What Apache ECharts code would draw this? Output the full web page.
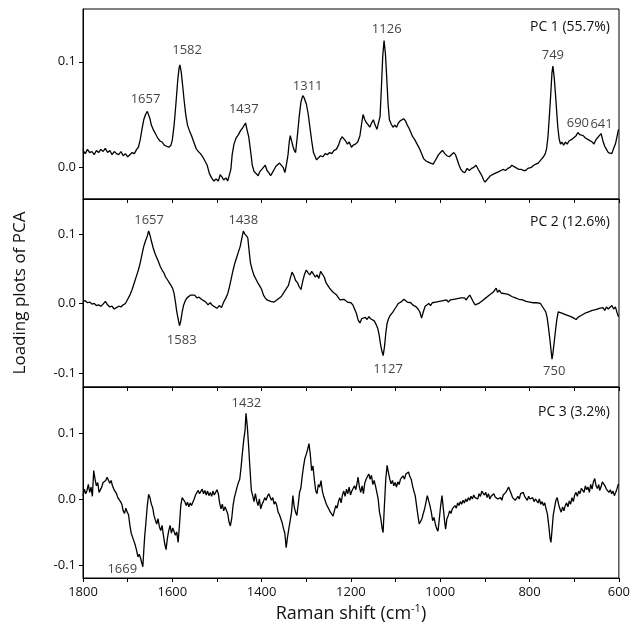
<!DOCTYPE html>
<html><head><meta charset="utf-8">
<script src="https://cdn.jsdelivr.net/npm/echarts@6/dist/echarts.min.js"></script>
<style>html,body{margin:0;padding:0;background:#fff}#c{width:633px;height:639px}</style>
</head><body><div id="c"></div>
<script>
// ---- data (wavenumber cm-1, loading) ----
const pc1 = [[1800,0.016],[1795,0.013],[1790,0.017],[1785,0.014],[1780,0.015],[1775,0.012],[1770,0.016],[1765,0.014],[1760,0.017],[1755,0.015],[1750,0.018],[1745,0.014],[1740,0.016],[1735,0.012],[1730,0.015],[1725,0.013],[1720,0.012],[1715,0.015],[1710,0.011],[1705,0.013],[1700,0.010],[1695,0.012],[1690,0.014],[1685,0.013],[1680,0.017],[1676,0.019],[1672,0.026],[1668,0.036],[1664,0.045],[1660,0.050],[1656,0.053],[1653,0.054],[1650,0.046],[1647,0.040],[1643,0.036],[1638,0.032],[1633,0.028],[1628,0.025],[1623,0.024],[1618,0.021],[1613,0.020],[1608,0.019],[1603,0.021],[1600,0.026],[1596,0.040],[1592,0.060],[1588,0.082],[1585,0.094],[1583,0.097],[1580,0.090],[1577,0.078],[1574,0.065],[1570,0.050],[1566,0.040],[1562,0.035],[1557,0.030],[1552,0.024],[1547,0.018],[1542,0.015],[1537,0.013],[1532,0.010],[1527,0.006],[1522,0.002],[1517,-0.006],[1512,-0.010],[1507,-0.013],[1502,-0.011],[1497,-0.013],[1493,-0.007],[1489,-0.009],[1485,-0.012],[1480,-0.010],[1476,-0.013],[1472,-0.014],[1469,-0.002],[1466,0.012],[1462,0.022],[1457,0.028],[1452,0.031],[1447,0.035],[1443,0.037],[1439,0.040],[1436,0.042],[1433,0.036],[1429,0.029],[1425,0.016],[1421,0.002],[1417,-0.004],[1412,-0.006],[1408,-0.008],[1404,-0.004],[1400,-0.005],[1396,0.000],[1392,0.002],[1388,-0.003],[1384,-0.005],[1380,-0.008],[1376,-0.005],[1372,-0.002],[1368,0.001],[1364,0.002],[1360,0.004],[1356,0.004],[1352,0.000],[1348,-0.005],[1344,0.004],[1341,0.012],[1338,0.025],[1336,0.030],[1333,0.025],[1330,0.020],[1327,0.016],[1324,0.014],[1320,0.030],[1316,0.048],[1312,0.062],[1308,0.068],[1305,0.066],[1300,0.060],[1296,0.051],[1292,0.038],[1288,0.025],[1284,0.014],[1280,0.010],[1277,0.007],[1273,0.009],[1268,0.011],[1263,0.010],[1258,0.013],[1253,0.012],[1248,0.014],[1243,0.013],[1238,0.016],[1233,0.017],[1228,0.021],[1224,0.026],[1220,0.029],[1216,0.027],[1212,0.025],[1208,0.022],[1204,0.024],[1199,0.019],[1195,0.021],[1190,0.022],[1185,0.024],[1180,0.030],[1176,0.042],[1173,0.050],[1169,0.045],[1165,0.042],[1161,0.040],[1158,0.038],[1154,0.042],[1150,0.045],[1146,0.040],[1142,0.036],[1138,0.035],[1135,0.048],[1132,0.075],[1129,0.105],[1126,0.120],[1123,0.108],[1120,0.085],[1117,0.060],[1114,0.045],[1110,0.041],[1106,0.038],[1102,0.040],[1098,0.038],[1094,0.042],[1090,0.044],[1086,0.045],[1082,0.046],[1078,0.044],[1074,0.040],[1070,0.037],[1066,0.033],[1062,0.029],[1057,0.026],[1052,0.022],[1047,0.018],[1042,0.013],[1037,0.008],[1032,0.006],[1027,0.005],[1022,0.004],[1016,0.003],[1012,0.006],[1008,0.009],[1004,0.012],[1000,0.014],[995,0.016],[990,0.013],[985,0.011],[980,0.010],[975,0.012],[970,0.014],[966,0.012],[962,0.007],[958,0.002],[954,-0.002],[950,-0.004],[945,-0.005],[940,-0.001],[935,-0.003],[930,-0.001],[925,0.000],[920,0.002],[915,-0.002],[911,-0.005],[907,-0.008],[903,-0.012],[900,-0.014],[896,-0.012],[892,-0.010],[888,-0.008],[884,-0.009],[879,-0.006],[874,-0.005],[869,-0.004],[864,-0.003],[859,-0.002],[854,-0.003],[849,-0.001],[844,0.000],[840,0.002],[836,0.003],[832,0.000],[828,-0.001],[824,-0.002],[819,-0.002],[814,-0.003],[809,-0.003],[804,-0.001],[800,0.000],[796,0.000],[791,0.002],[786,0.003],[781,0.004],[777,0.005],[773,0.008],[769,0.010],[765,0.013],[762,0.018],[759,0.029],[756,0.048],[753,0.068],[750,0.090],[748,0.096],[745,0.085],[742,0.068],[739,0.050],[737,0.038],[734,0.027],[731,0.022],[728,0.024],[724,0.021],[720,0.024],[716,0.022],[712,0.025],[708,0.024],[704,0.027],[700,0.026],[696,0.030],[692,0.033],[688,0.031],[684,0.032],[680,0.030],[676,0.028],[672,0.029],[668,0.026],[664,0.025],[660,0.024],[656,0.022],[652,0.026],[648,0.028],[644,0.030],[640,0.032],[636,0.025],[632,0.020],[628,0.017],[624,0.014],[620,0.015],[616,0.013],[612,0.018],[608,0.022],[604,0.030],[601,0.036]];

const pc2 = [[1800,0.003],[1795,0.004],[1790,0.001],[1785,0.002],[1780,-0.001],[1775,0.000],[1770,-0.003],[1765,-0.002],[1760,-0.004],[1755,-0.001],[1750,0.003],[1745,-0.002],[1740,-0.005],[1735,-0.004],[1730,-0.008],[1725,-0.006],[1720,-0.004],[1715,-0.005],[1710,-0.002],[1705,0.000],[1700,0.006],[1695,0.012],[1690,0.020],[1685,0.030],[1680,0.040],[1676,0.048],[1672,0.058],[1668,0.070],[1664,0.082],[1660,0.090],[1656,0.097],[1653,0.104],[1650,0.098],[1647,0.090],[1643,0.080],[1639,0.072],[1635,0.066],[1631,0.060],[1627,0.053],[1623,0.048],[1619,0.044],[1615,0.038],[1611,0.034],[1607,0.030],[1603,0.026],[1599,0.021],[1596,0.014],[1593,0.002],[1590,-0.012],[1587,-0.022],[1584,-0.032],[1581,-0.025],[1578,-0.012],[1575,-0.003],[1571,0.004],[1567,0.008],[1563,0.010],[1559,0.012],[1555,0.010],[1550,0.012],[1545,0.008],[1540,0.009],[1535,0.006],[1530,0.004],[1525,0.002],[1520,-0.002],[1515,0.001],[1510,-0.003],[1505,-0.005],[1500,-0.007],[1495,-0.003],[1490,-0.006],[1485,0.002],[1480,0.008],[1476,0.014],[1472,0.024],[1468,0.036],[1464,0.048],[1460,0.058],[1456,0.066],[1452,0.074],[1448,0.082],[1444,0.095],[1441,0.104],[1438,0.100],[1434,0.097],[1431,0.094],[1428,0.075],[1425,0.058],[1421,0.048],[1417,0.040],[1413,0.035],[1409,0.030],[1405,0.026],[1400,0.020],[1396,0.012],[1392,0.008],[1388,0.005],[1384,0.004],[1380,0.003],[1376,0.005],[1372,0.002],[1368,0.004],[1364,0.006],[1360,0.008],[1356,0.010],[1352,0.014],[1348,0.018],[1344,0.022],[1340,0.026],[1336,0.036],[1332,0.045],[1328,0.040],[1324,0.033],[1320,0.030],[1316,0.024],[1312,0.020],[1308,0.032],[1304,0.042],[1300,0.048],[1296,0.044],[1292,0.041],[1288,0.046],[1284,0.042],[1280,0.038],[1276,0.041],[1272,0.036],[1268,0.046],[1264,0.044],[1260,0.038],[1256,0.030],[1252,0.026],[1248,0.022],[1244,0.019],[1240,0.016],[1236,0.015],[1232,0.012],[1228,0.008],[1224,0.005],[1220,0.003],[1216,0.006],[1212,0.004],[1208,0.002],[1204,0.004],[1200,0.001],[1196,-0.002],[1192,-0.004],[1188,-0.014],[1184,-0.024],[1180,-0.028],[1176,-0.022],[1172,-0.024],[1168,-0.020],[1164,-0.023],[1160,-0.019],[1156,-0.022],[1152,-0.021],[1148,-0.025],[1144,-0.030],[1140,-0.036],[1137,-0.045],[1134,-0.058],[1131,-0.068],[1128,-0.075],[1125,-0.062],[1122,-0.042],[1119,-0.028],[1116,-0.022],[1113,-0.018],[1110,-0.016],[1106,-0.012],[1102,-0.008],[1098,-0.004],[1094,0.000],[1090,0.002],[1086,0.003],[1082,0.006],[1078,0.005],[1074,0.002],[1070,0.000],[1066,0.001],[1062,-0.002],[1058,0.000],[1054,-0.005],[1050,-0.008],[1046,-0.012],[1042,-0.021],[1038,-0.012],[1034,-0.004],[1030,-0.002],[1026,0.000],[1022,-0.003],[1018,0.001],[1014,-0.001],[1010,0.002],[1006,0.000],[1002,0.003],[998,0.002],[994,0.004],[990,0.003],[986,0.005],[982,0.002],[978,0.005],[974,0.003],[970,0.006],[966,0.004],[962,0.007],[958,0.005],[954,0.008],[950,0.006],[946,0.008],[942,0.005],[938,0.009],[934,0.012],[930,0.007],[926,0.002],[922,-0.002],[918,-0.004],[914,0.000],[910,0.002],[906,0.004],[902,0.005],[898,0.008],[894,0.010],[890,0.012],[886,0.014],[882,0.016],[878,0.018],[875,0.022],[872,0.016],[868,0.019],[864,0.015],[860,0.016],[856,0.014],[852,0.016],[848,0.013],[844,0.012],[840,0.010],[836,0.010],[832,0.008],[828,0.008],[824,0.006],[820,0.007],[816,0.005],[812,0.004],[808,0.003],[804,0.003],[800,0.002],[796,0.002],[792,0.001],[788,0.000],[784,0.001],[780,-0.001],[776,0.000],[772,-0.004],[768,-0.008],[764,-0.012],[761,-0.020],[758,-0.034],[755,-0.050],[752,-0.068],[750,-0.080],[748,-0.072],[745,-0.055],[742,-0.038],[739,-0.022],[736,-0.012],[732,-0.012],[728,-0.014],[724,-0.013],[720,-0.016],[716,-0.015],[712,-0.018],[708,-0.017],[704,-0.020],[700,-0.021],[696,-0.023],[692,-0.020],[688,-0.019],[684,-0.017],[680,-0.016],[676,-0.014],[672,-0.015],[668,-0.012],[664,-0.013],[660,-0.010],[656,-0.011],[652,-0.009],[648,-0.011],[644,-0.007],[640,-0.009],[636,-0.006],[632,-0.010],[628,-0.005],[624,-0.008],[620,-0.006],[616,-0.003],[612,-0.008],[608,-0.005],[604,-0.014],[601,-0.019]];

const pc3 = [[1800,0.005],[1797,0.015],[1794,0.008],[1791,0.013],[1788,0.022],[1785,0.010],[1782,0.018],[1779,0.004],[1776,0.043],[1773,0.030],[1770,0.020],[1767,0.025],[1764,0.010],[1761,0.007],[1758,0.018],[1755,0.025],[1752,0.022],[1749,0.028],[1746,0.033],[1743,0.035],[1740,0.024],[1737,0.028],[1734,0.020],[1731,0.015],[1728,0.012],[1725,0.008],[1722,0.002],[1719,0.000],[1716,-0.004],[1713,-0.008],[1710,-0.018],[1707,-0.022],[1704,-0.014],[1701,-0.020],[1698,-0.024],[1695,-0.040],[1692,-0.052],[1689,-0.058],[1686,-0.064],[1683,-0.070],[1680,-0.078],[1677,-0.088],[1674,-0.084],[1671,-0.090],[1668,-0.098],[1666,-0.103],[1664,-0.080],[1662,-0.058],[1659,-0.035],[1656,-0.010],[1653,0.007],[1650,0.002],[1647,-0.008],[1644,-0.013],[1641,-0.025],[1638,-0.032],[1635,-0.038],[1632,-0.030],[1629,-0.042],[1626,-0.048],[1623,-0.040],[1620,-0.055],[1617,-0.068],[1614,-0.077],[1611,-0.060],[1608,-0.048],[1605,-0.040],[1602,-0.052],[1599,-0.044],[1596,-0.046],[1593,-0.055],[1590,-0.050],[1587,-0.066],[1584,-0.040],[1581,-0.010],[1578,0.002],[1575,0.005],[1572,-0.004],[1569,-0.010],[1566,-0.005],[1563,-0.012],[1560,-0.006],[1557,-0.010],[1554,-0.008],[1551,0.000],[1548,0.006],[1545,0.004],[1542,0.013],[1539,0.008],[1536,0.010],[1533,0.015],[1530,0.008],[1527,0.013],[1524,0.006],[1521,0.012],[1518,0.005],[1515,0.010],[1512,0.004],[1509,0.012],[1506,0.006],[1503,0.009],[1500,0.014],[1497,0.008],[1494,-0.006],[1491,-0.015],[1488,-0.008],[1485,-0.018],[1482,-0.012],[1479,-0.015],[1476,-0.022],[1473,-0.035],[1470,-0.041],[1467,-0.030],[1464,-0.010],[1461,0.002],[1458,0.010],[1455,0.018],[1452,0.025],[1449,0.030],[1446,0.048],[1443,0.070],[1440,0.090],[1437,0.105],[1435,0.130],[1432,0.110],[1429,0.079],[1426,0.045],[1423,0.013],[1420,0.005],[1417,-0.004],[1414,0.008],[1411,-0.003],[1408,-0.010],[1405,0.000],[1402,-0.015],[1399,-0.008],[1396,-0.004],[1393,0.002],[1390,-0.002],[1387,0.004],[1384,0.008],[1381,0.005],[1378,-0.002],[1375,0.002],[1372,-0.008],[1369,-0.004],[1366,-0.010],[1363,-0.020],[1360,-0.024],[1357,-0.030],[1354,-0.036],[1351,-0.045],[1348,-0.052],[1345,-0.074],[1342,-0.058],[1339,-0.045],[1336,-0.033],[1333,-0.020],[1330,0.005],[1327,-0.012],[1324,-0.020],[1321,-0.025],[1318,-0.008],[1315,0.010],[1312,0.017],[1309,0.035],[1306,0.050],[1303,0.062],[1300,0.068],[1297,0.075],[1294,0.084],[1291,0.068],[1288,0.043],[1285,0.050],[1282,0.030],[1279,0.013],[1276,0.008],[1273,0.022],[1270,0.018],[1267,0.028],[1264,0.012],[1261,0.004],[1258,-0.002],[1255,-0.008],[1252,-0.012],[1249,-0.016],[1246,-0.020],[1243,-0.022],[1240,-0.026],[1237,-0.018],[1234,-0.010],[1231,-0.014],[1228,-0.004],[1225,0.002],[1222,-0.006],[1219,0.006],[1216,0.012],[1213,0.004],[1210,0.015],[1207,0.008],[1204,0.018],[1201,0.006],[1198,0.012],[1195,0.010],[1192,0.020],[1189,0.014],[1186,0.025],[1184,0.033],[1181,0.018],[1178,0.010],[1175,0.020],[1172,0.008],[1169,0.024],[1166,0.030],[1163,0.034],[1160,0.038],[1157,0.030],[1154,0.036],[1151,0.022],[1148,0.028],[1145,0.020],[1142,0.018],[1139,0.000],[1136,-0.020],[1133,-0.030],[1130,-0.045],[1128,-0.051],[1125,-0.010],[1122,0.030],[1119,0.051],[1116,0.040],[1113,0.030],[1110,0.023],[1107,0.028],[1104,0.020],[1101,0.025],[1098,0.018],[1095,0.026],[1092,0.022],[1089,0.030],[1086,0.028],[1083,0.035],[1080,0.030],[1077,0.038],[1074,0.036],[1071,0.041],[1068,0.034],[1065,0.030],[1062,0.020],[1059,0.012],[1056,0.005],[1053,-0.010],[1050,-0.025],[1047,-0.038],[1044,-0.041],[1041,-0.030],[1038,-0.022],[1035,-0.015],[1032,-0.005],[1029,0.005],[1026,0.002],[1023,-0.010],[1020,-0.020],[1017,-0.033],[1014,-0.028],[1011,-0.038],[1008,-0.045],[1005,-0.049],[1002,-0.030],[999,-0.010],[996,0.005],[993,-0.015],[990,-0.035],[988,-0.046],[985,-0.030],[982,-0.025],[979,-0.018],[976,-0.022],[973,-0.015],[970,-0.018],[967,-0.010],[964,-0.014],[961,-0.006],[958,-0.010],[955,-0.004],[952,-0.008],[949,-0.002],[946,-0.006],[943,0.000],[940,-0.004],[937,0.002],[934,-0.002],[931,0.004],[928,0.000],[925,0.006],[922,0.002],[919,0.005],[916,0.000],[913,0.008],[910,0.004],[907,0.012],[904,0.015],[901,0.006],[898,0.010],[895,0.002],[892,0.008],[889,0.000],[886,0.004],[883,0.002],[880,0.008],[877,0.003],[874,0.006],[871,0.000],[868,-0.003],[865,0.002],[862,-0.002],[859,0.006],[856,0.004],[853,0.010],[850,0.014],[847,0.018],[844,0.020],[841,0.008],[838,0.002],[835,0.005],[832,-0.002],[829,-0.003],[826,0.004],[823,0.000],[820,0.008],[817,0.005],[814,0.010],[811,0.004],[808,0.006],[805,-0.002],[802,0.004],[799,0.000],[796,-0.003],[793,0.002],[790,-0.004],[787,0.000],[784,-0.003],[781,-0.006],[778,0.000],[775,-0.008],[772,-0.004],[769,-0.010],[766,-0.006],[763,-0.015],[760,-0.023],[757,-0.040],[754,-0.060],[752,-0.066],[750,-0.050],[747,-0.025],[744,-0.013],[741,-0.002],[738,0.002],[735,-0.008],[732,-0.015],[729,-0.020],[726,-0.012],[723,-0.018],[720,-0.010],[717,-0.006],[714,-0.012],[711,-0.003],[708,-0.008],[705,0.002],[702,-0.004],[699,0.006],[696,0.010],[693,0.004],[690,0.012],[687,0.008],[684,0.016],[681,0.018],[678,0.010],[675,0.020],[672,0.014],[669,0.018],[666,0.010],[663,0.022],[660,0.015],[657,0.026],[654,0.031],[651,0.020],[648,0.016],[645,0.022],[643,0.013],[640,0.018],[637,0.026],[634,0.028],[631,0.020],[628,0.015],[625,0.018],[622,0.010],[619,0.014],[616,0.008],[613,0.012],[610,0.005],[607,0.010],[604,0.016],[601,0.023]];

// peak annotations: [wavenumber, loading, text]
const ann1 = [[1660,0.064,'1657'],[1567,0.111,'1582'],[1440,0.055,'1437'],[1297,0.077,'1311'],[1120,0.131,'1126'],[748,0.106,'749'],[692,0.042,'690'],[639,0.041,'641']];
const ann2 = [[1652,0.120,'1657'],[1441,0.120,'1438'],[1579,-0.053,'1583'],[1117,-0.095,'1127'],[745,-0.097,'750']];
const ann3 = [[1434,0.146,'1432'],[1712,-0.107,'1669']];

const panelTitles = ['PC 1 (55.7%)','PC 2 (12.6%)','PC 3 (3.2%)'];
const xLabels = [1800,1600,1400,1200,1000,800,600];
const yTicks = [[0,0.1],[-0.1,0,0.1],[-0.1,0,0.1]];
const yRange = [[-0.03,0.15],[-0.12,0.15],[-0.12,0.17]];

const FONT = '"Open Sans", sans-serif';
const TXT = '#111';
const grids = [
  {left:83, top:9, width:536, height:190},
  {left:83, top:199, width:536, height:188},
  {left:83, top:387, width:536, height:191}
].map(g => Object.assign(g, {show:true, borderColor:'#000', borderWidth:1, backgroundColor:'transparent'}));

const xAxes = [0,1,2].map(i => ({
  gridIndex:i, type:'value', inverse:true, min:600, max:1800, interval:100,
  axisLine:{show:true, onZero:false, lineStyle:{color:'#000', width:1}},
  axisTick:{show:true, inside:false, length:4, lineStyle:{color:'#000'}},
  axisLabel:{show:i===2, margin:8, fontFamily:FONT, fontSize:13, color:TXT,
    formatter: v => xLabels.includes(v) ? String(v) : ''},
  splitLine:{show:false},
  name: i===2 ? '{a|Raman shift (cm}{s|-1}{a|)}' : '',
  nameLocation:'middle', nameGap:25,
  nameTextStyle:{rich:{a:{fontFamily:FONT, fontSize:18, color:TXT}, s:{fontFamily:FONT, fontSize:11, color:TXT, verticalAlign:'top', padding:[0,0,10,0]}}}
}));

const yAxes = [0,1,2].map(i => ({
  gridIndex:i, type:'value', min:yRange[i][0], max:yRange[i][1],
  axisLine:{show:true, onZero:false, lineStyle:{color:'#000', width:1}},
  axisTick:{show:true, inside:false, length:4, customValues:yTicks[i], lineStyle:{color:'#000'}},
  axisLabel:{customValues:yTicks[i], margin:7, fontFamily:FONT, fontSize:13, color:TXT,
    formatter: v => v.toFixed(1)},
  splitLine:{show:false},
  name: i===1 ? 'Loading plots of PCA' : '',
  nameLocation:'middle', nameGap:54,
  nameTextStyle:{fontFamily:FONT, fontSize:17, color:TXT}
}));

const data = [pc1, pc2, pc3];
const anns = [ann1, ann2, ann3];
const series = [];
data.forEach((d,i) => {
  series.push({type:'line', xAxisIndex:i, yAxisIndex:i, data:d, showSymbol:false, symbol:'none',
    lineStyle:{color:'#000', width:1.3}, animation:false, silent:true});
  series.push({type:'scatter', xAxisIndex:i, yAxisIndex:i, symbolSize:0, animation:false, silent:true,
    data: anns[i].map(a => ({value:[a[0],a[1]], name:a[2]})),
    label:{show:true, position:'inside', formatter: p => p.name, fontFamily:FONT, fontSize:13, color:TXT}});
});

const chart = echarts.init(document.getElementById('c'), null, {renderer:'canvas'});
chart.setOption({
  animation:false,
  grid:grids, xAxis:xAxes, yAxis:yAxes, series:series,
  graphic: panelTitles.map((t,i) => ({type:'text', right: 633-610, top:[20,215,405][i],
    style:{text:t, fontFamily:FONT, fontSize:14, fill:TXT}}))
});
</script></body></html>
